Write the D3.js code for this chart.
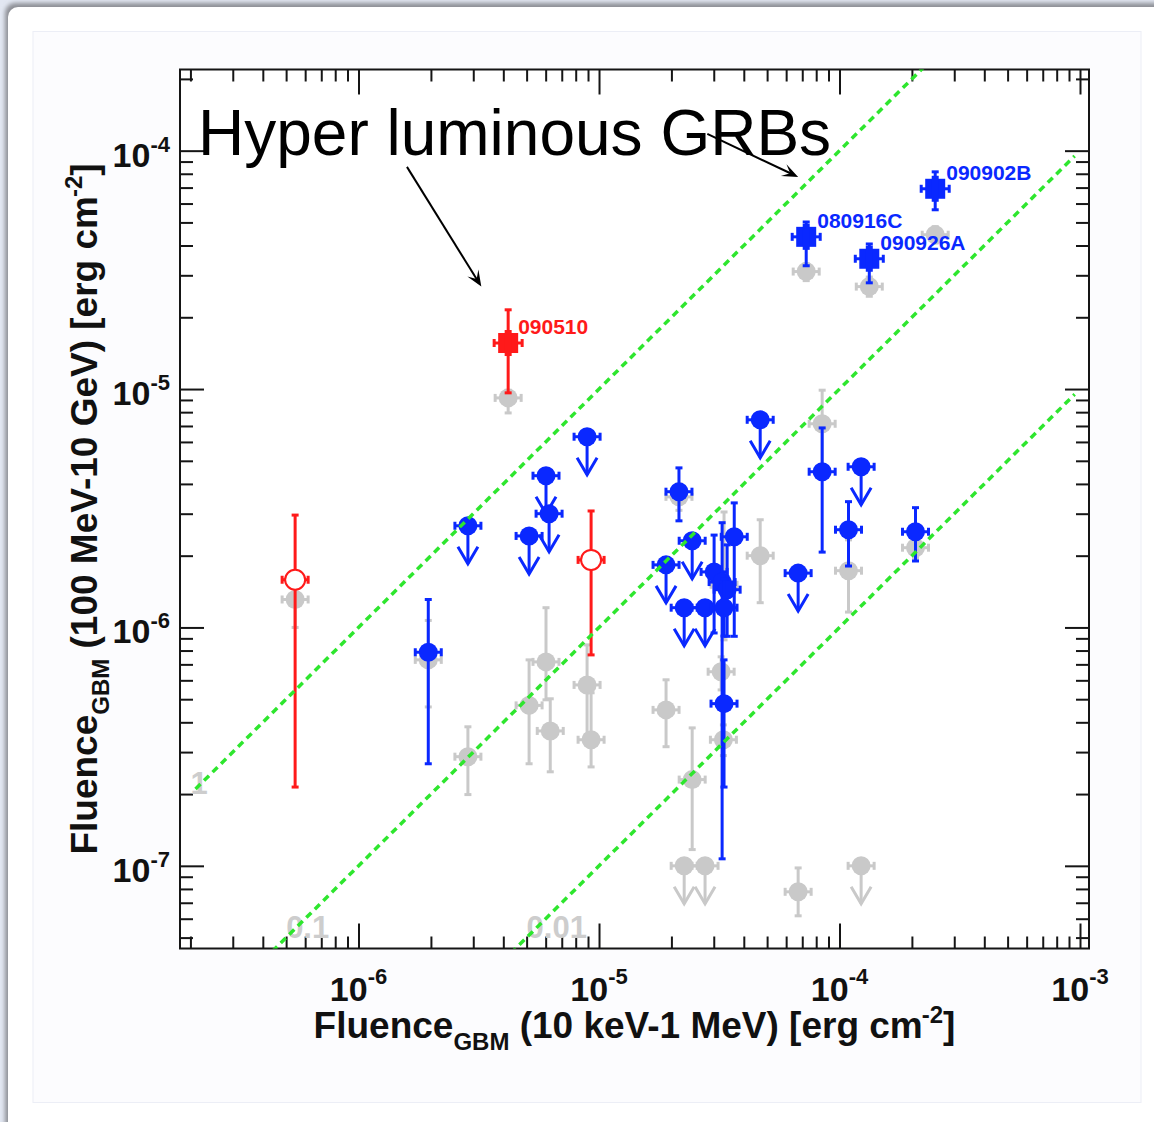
<!DOCTYPE html>
<html>
<head>
<meta charset="utf-8">
<script src="https://cdn.jsdelivr.net/npm/d3@7"></script>
<style>
  body { margin: 0; background: #fff; }
  svg { display: block; }
  text { font-family: "Liberation Sans", Arial, Helvetica, sans-serif; }
</style>
</head>
<body>
<svg id="chart" width="1154" height="1122"></svg>
<script>
// Fluences in erg cm^-2.
// Rows: [GBM fluence 10 keV-1 MeV, LAT fluence 100 MeV-10 GeV, lower, upper]

// Earlier LAT estimates (light gray)
const grayPoints = [
  [5.45e-7, 1.31e-6, 1.00e-6, 1.62e-6],
  [1.95e-6, 7.31e-7, 4.64e-7, 1.07e-6],
  [2.85e-6, 2.87e-7, 1.99e-7, 3.83e-7],
  [4.19e-6, 9.18e-6, 7.94e-6, 9.89e-6],
  [5.12e-6, 4.71e-7, 2.68e-7, 7.31e-7],
  [6.02e-6, 7.17e-7, 4.97e-7, 1.21e-6],
  [6.27e-6, 3.68e-7, 2.48e-7, 5.02e-7],
  [8.92e-6, 5.74e-7, 3.54e-7, 8.45e-7],
  [9.27e-6, 3.38e-7, 2.60e-7, 5.32e-7],
  [1.90e-5, 4.51e-7, 3.16e-7, 6.03e-7],
  [2.15e-5, 3.53e-6, 3.10e-6, 4.00e-6],
  [2.44e-5, 2.30e-7, 1.17e-7, 3.79e-7],
  [3.31e-5, 1.51e-6, 8.87e-7, 3.05e-6],
  [3.22e-5, 6.52e-7, 5.47e-7, 7.53e-7],
  [3.29e-5, 3.38e-7, 2.90e-7, 3.90e-7],
  [4.68e-5, 2.00e-6, 1.27e-6, 2.83e-6],
  [6.73e-5, 7.78e-8, 6.17e-8, 9.80e-8],
  [8.47e-5, 7.15e-6, 4.58e-6, 9.89e-6],
  [1.09e-4, 1.73e-6, 1.16e-6, 2.33e-6],
  [2.07e-4, 2.16e-6, 1.95e-6, 2.35e-6],
  [7.27e-5, 3.11e-5, 2.85e-5, 3.35e-5],
  [1.33e-4, 2.69e-5, 2.45e-5, 2.95e-5],
  [2.50e-4, 4.44e-5, 4.10e-5, 4.80e-5]
];
// Earlier LAT upper limits: [GBM fluence, LAT limit]
const grayLimits = [
  [2.26e-5, 1.0e-7],
  [2.76e-5, 1.0e-7],
  [1.23e-4, 1.0e-7]
];

// Long GRBs detected by the LAT (blue circles)
const bluePoints = [
  [1.95e-6, 7.87e-7, 2.68e-7, 1.31e-6],
  [2.15e-5, 3.71e-6, 2.80e-6, 4.67e-6],
  [8.47e-5, 4.50e-6, 2.07e-6, 6.87e-6],
  [1.09e-4, 2.57e-6, 1.81e-6, 3.37e-6],
  [2.07e-4, 2.52e-6, 1.90e-6, 3.18e-6],
  [3.01e-5, 1.71e-6, 9.48e-7, 2.44e-6],
  [3.25e-5, 1.55e-6, 1.07e-7, 2.75e-6],
  [3.41e-5, 1.44e-6, 9.18e-7, 2.22e-6],
  [3.65e-5, 2.40e-6, 9.18e-7, 3.33e-6],
  [3.31e-5, 1.21e-6, 9.20e-7, 1.60e-6],
  [3.31e-5, 4.79e-7, 2.14e-7, 7.31e-7]
];
// LAT upper limits: [GBM fluence, LAT limit]
const blueLimits = [
  [2.85e-6, 2.67e-6],
  [5.12e-6, 2.42e-6],
  [6.02e-6, 4.33e-6],
  [6.20e-6, 3.00e-6],
  [8.92e-6, 6.31e-6],
  [4.68e-5, 7.43e-6],
  [1.90e-5, 1.83e-6],
  [2.44e-5, 2.31e-6],
  [2.26e-5, 1.21e-6],
  [2.76e-5, 1.21e-6],
  [6.73e-5, 1.69e-6],
  [1.23e-4, 4.72e-6]
];

// Hyper-luminous long bursts (blue squares)
const brightNames = ["080916C", "090926A", "090902B"];
const brightPoints = [
  [7.27e-5, 4.35e-5, 3.29e-5, 5.02e-5],
  [1.33e-4, 3.52e-5, 2.79e-5, 4.06e-5],
  [2.50e-4, 6.92e-5, 5.65e-5, 8.15e-5]
];

// Short bursts (red): 090510 filled square, others open circles
const shortBrightName = "090510";
const shortBright = [4.19e-6, 1.56e-5, 9.64e-6, 2.15e-5];
const shortPoints = [
  [5.45e-7, 1.585e-6, 2.14e-7, 2.96e-6],
  [9.27e-6, 1.92e-6, 7.67e-7, 3.08e-6]
];

// Constant LAT/GBM fluence ratio lines and where their labels sit
const ratioValues = [1, 0.1, 0.01];
const ratioLabels = ["1", "0.1", "0.01"];
const ratioLabelX = [2.0e-7, 5.0e-7, 5.0e-6];
const ratioRange = [2.1e-7, 9.5e-4];

// Axes
const xDomain = [1.81e-7, 1.09e-3];
const yDomain = [4.5e-8, 2.19e-4];
const xMajorTicks = [1e-6, 1e-5, 1e-4, 1e-3];
const xTickExponents = ["-6", "-5", "-4", "-3"];
const yMajorTicks = [1e-7, 1e-6, 1e-5, 1e-4];
const yTickExponents = ["-7", "-6", "-5", "-4"];

// Headline annotation and its two pointers (in data coordinates)
const headline = "Hyper luminous GRBs";
const headlineAt = [2.15e-7, 9.6e-5];
const pointerArrows = [
  [[1.59e-6, 8.55e-5], [3.24e-6, 2.69e-5]],
  [[2.82e-5, 1.175e-4], [6.73e-5, 7.76e-5]]
];

// ---------------------------------------------------------------
const W = 1154, H = 1122;
const frame = { left: 180, right: 1089, top: 69.5, bottom: 948.5 };
const BLUE = "#0a28ff", RED = "#ff1a1a", GRAY = "#c9c9c9", GREEN = "#2ee62e";

const svg = d3.select("#chart");
const defs = svg.append("defs");
defs.append("filter").attr("id", "soft")
  .attr("x", "-5%").attr("y", "-5%").attr("width", "110%").attr("height", "110%")
  .append("feGaussianBlur").attr("stdDeviation", 2);
defs.append("clipPath").attr("id", "plotArea").append("rect")
  .attr("x", frame.left).attr("y", frame.top)
  .attr("width", frame.right - frame.left).attr("height", frame.bottom - frame.top);

// Page / slide backdrop
svg.append("rect").attr("width", W).attr("height", H).attr("fill", "#e2e7f2");
svg.append("rect").attr("x", 5).attr("y", 3).attr("width", W + 20).attr("height", H + 20)
  .attr("rx", 10).attr("fill", "#8e9096").attr("filter", "url(#soft)");
svg.append("rect").attr("x", 8).attr("y", 7).attr("width", W + 20).attr("height", H + 20)
  .attr("rx", 10).attr("fill", "#ffffff");
svg.append("rect").attr("x", 33).attr("y", 31.5).attr("width", 1108).attr("height", 1071)
  .attr("fill", "#fcfcfe").attr("stroke", "#eceef6");

const x = d3.scaleLog().domain(xDomain).range([frame.left, frame.right]);
const y = d3.scaleLog().domain(yDomain).range([frame.bottom, frame.top]);

// Plot frame
svg.append("rect")
  .attr("x", frame.left).attr("y", frame.top)
  .attr("width", frame.right - frame.left).attr("height", frame.bottom - frame.top)
  .attr("fill", "#ffffff");

// Ticks on all four sides, pointing inwards
const isDecade = v => Math.abs(Math.log10(v) - Math.round(Math.log10(v))) < 1e-9;
const xMinor = x.ticks().filter(v => !isDecade(v));
const yMinor = y.ticks().filter(v => !isDecade(v));

function tickAxis(axisFn, scale, values, size, transform) {
  const g = svg.append("g").attr("transform", transform)
    .call(axisFn(scale).tickValues(values).tickSize(-size).tickFormat(""));
  g.select(".domain").remove();
  g.selectAll(".tick line").attr("stroke", "#151515").attr("stroke-width", 2);
  return g;
}
tickAxis(d3.axisBottom, x, xMinor, 12, `translate(0,${frame.bottom})`);
tickAxis(d3.axisBottom, x, xMajorTicks, 25, `translate(0,${frame.bottom})`);
tickAxis(d3.axisTop, x, xMinor, 12, `translate(0,${frame.top})`);
tickAxis(d3.axisTop, x, xMajorTicks, 25, `translate(0,${frame.top})`);
tickAxis(d3.axisLeft, y, yMinor, 13, `translate(${frame.left},0)`);
tickAxis(d3.axisLeft, y, yMajorTicks, 24, `translate(${frame.left},0)`);
tickAxis(d3.axisRight, y, yMinor, 13, `translate(${frame.right},0)`);
tickAxis(d3.axisRight, y, yMajorTicks, 24, `translate(${frame.right},0)`);

svg.append("rect")
  .attr("x", frame.left).attr("y", frame.top)
  .attr("width", frame.right - frame.left).attr("height", frame.bottom - frame.top)
  .attr("fill", "none").attr("stroke", "#151515").attr("stroke-width", 2);

// Tick labels: 10 with superscript exponent
const xLab = svg.append("g");
xMajorTicks.forEach((v, i) => {
  const t = xLab.append("text").attr("x", x(v)).attr("y", 1001)
    .attr("text-anchor", "middle").attr("font-weight", "bold").attr("font-size", 34).attr("fill", "#111");
  t.append("tspan").text("10");
  t.append("tspan").attr("dy", -17).attr("font-size", 22).text(xTickExponents[i]);
});
const yLab = svg.append("g");
yMajorTicks.forEach((v, i) => {
  const t = yLab.append("text").attr("x", 170).attr("y", y(v) + 16)
    .attr("text-anchor", "end").attr("font-weight", "bold").attr("font-size", 34).attr("fill", "#111");
  t.append("tspan").text("10");
  t.append("tspan").attr("dy", -15).attr("font-size", 22).text(yTickExponents[i]);
});

// Axis titles
function axisTitle(t, band) {
  t.attr("font-weight", "bold").attr("font-size", 37).attr("fill", "#111").attr("text-anchor", "middle");
  t.append("tspan").text("Fluence");
  t.append("tspan").attr("dy", 12).attr("font-size", 24).text("GBM");
  t.append("tspan").attr("dy", -12).text(` (${band}) [erg cm`);
  t.append("tspan").attr("dy", -15).attr("dx", -1).attr("font-size", 24).text("-2");
  t.append("tspan").attr("dy", 15).text("]");
}
axisTitle(svg.append("text").attr("x", (frame.left + frame.right) / 2).attr("y", 1038), "10 keV-1 MeV");
axisTitle(svg.append("text")
  .attr("transform", `translate(97,${(frame.top + frame.bottom) / 2}) rotate(-90)`), "100 MeV-10 GeV");

// Data layer
const plot = svg.append("g");
const R = 9.5, EAR = 13, ARROW = 38;

function errorBar(g, cx, yLo, yHi, color) {
  g.append("line").attr("x1", cx).attr("x2", cx).attr("y1", yLo).attr("y2", yHi)
    .attr("stroke", color).attr("stroke-width", 3);
  [yLo, yHi].forEach(v => g.append("line")
    .attr("x1", cx - 3.5).attr("x2", cx + 3.5).attr("y1", v).attr("y2", v)
    .attr("stroke", color).attr("stroke-width", 3));
}
function ears(g, cx, cy, color, span) {
  g.append("line").attr("x1", cx - span).attr("x2", cx + span).attr("y1", cy).attr("y2", cy)
    .attr("stroke", color).attr("stroke-width", 3);
  [-span, span].forEach(d => g.append("line")
    .attr("x1", cx + d).attr("x2", cx + d).attr("y1", cy - 4).attr("y2", cy + 4)
    .attr("stroke", color).attr("stroke-width", 3));
}
function limitArrow(g, cx, cy, color) {
  g.append("line").attr("x1", cx).attr("x2", cx).attr("y1", cy).attr("y2", cy + ARROW)
    .attr("stroke", color).attr("stroke-width", 3);
  g.append("path")
    .attr("d", `M${cx - 10},${cy + ARROW - 17}L${cx},${cy + ARROW}L${cx + 10},${cy + ARROW - 17}`)
    .attr("fill", "none").attr("stroke", color).attr("stroke-width", 3);
}
function circlePoint(g, d, color, open) {
  const cx = x(d[0]), cy = y(d[1]);
  errorBar(g, cx, y(d[2]), y(d[3]), color);
  ears(g, cx, cy, color, EAR);
  g.append("circle").attr("cx", cx).attr("cy", cy).attr("r", open ? 10 : R)
    .attr("fill", open ? "#ffffff" : color)
    .attr("stroke", color).attr("stroke-width", open ? 2 : 0);
}
function limitPoint(g, d, color) {
  const cx = x(d[0]), cy = y(d[1]);
  limitArrow(g, cx, cy, color);
  ears(g, cx, cy, color, EAR);
  g.append("circle").attr("cx", cx).attr("cy", cy).attr("r", R).attr("fill", color);
}
function squarePoint(g, d, color) {
  const cx = x(d[0]), cy = y(d[1]);
  errorBar(g, cx, y(d[2]), y(d[3]), color);
  ears(g, cx, cy, color, 14);
  g.append("rect").attr("x", cx - 10).attr("y", cy - 10).attr("width", 20).attr("height", 20).attr("fill", color);
  g.append("rect").attr("x", cx - 3.5).attr("y", cy - 13).attr("width", 7).attr("height", 26).attr("fill", color);
}

// Gray layer underneath
plot.append("g").selectAll("g").data(grayPoints).join("g")
  .each(function (d) { circlePoint(d3.select(this), d, GRAY, false); });
plot.append("g").selectAll("g").data(grayLimits).join("g")
  .each(function (d) { limitPoint(d3.select(this), d, GRAY); });

// Blue and red bursts
plot.append("g").selectAll("g").data(blueLimits).join("g")
  .each(function (d) { limitPoint(d3.select(this), d, BLUE); });
plot.append("g").selectAll("g").data(bluePoints).join("g")
  .each(function (d) { circlePoint(d3.select(this), d, BLUE, false); });
plot.append("g").selectAll("g").data(shortPoints).join("g")
  .each(function (d) { circlePoint(d3.select(this), d, RED, true); });
squarePoint(plot.append("g"), shortBright, RED);
plot.append("g").selectAll("g").data(brightPoints).join("g")
  .each(function (d) { squarePoint(d3.select(this), d, BLUE); });

// Burst names
const names = svg.append("g").attr("font-weight", "bold").attr("font-size", 21);
names.append("text").attr("x", x(shortBright[0]) + 10).attr("y", y(shortBright[1]) - 9)
  .attr("fill", RED).text(shortBrightName);
names.selectAll("text.bright").data(brightPoints).join("text").attr("class", "bright")
  .attr("x", d => x(d[0]) + 11).attr("y", d => y(d[1]) - 9)
  .attr("fill", BLUE).text((d, i) => brightNames[i]);

// Ratio labels and constant-ratio lines
svg.append("g").selectAll("text").data(ratioValues).join("text")
  .attr("x", (r, i) => x(ratioLabelX[i])).attr("y", (r, i) => y(ratioLabelX[i] * r))
  .attr("font-weight", "bold").attr("font-size", 31).attr("fill", "#cdcdcd")
  .text((r, i) => ratioLabels[i]);

const ratioLine = d3.line().x(d => x(d[0])).y(d => y(d[1]));
svg.append("g").attr("clip-path", "url(#plotArea)")
  .selectAll("path").data(ratioValues).join("path")
  .attr("d", r => ratioLine(ratioRange.map(v => [v, v * r])))
  .attr("fill", "none").attr("stroke", GREEN).attr("stroke-width", 3.5)
  .attr("stroke-dasharray", "7 5");

// Headline annotation
svg.append("text").attr("x", x(headlineAt[0])).attr("y", y(headlineAt[1]))
  .attr("font-size", 64).attr("fill", "#000").text(headline);

const ann = svg.append("g");
pointerArrows.forEach(([from, to]) => {
  const x1 = x(from[0]), y1 = y(from[1]), x2 = x(to[0]), y2 = y(to[1]);
  const a = Math.atan2(y2 - y1, x2 - x1), L = 16, hw = 6.5;
  const p = (dd, s) => [x2 - Math.cos(a) * dd - Math.sin(a) * s, y2 - Math.sin(a) * dd + Math.cos(a) * s];
  ann.append("line").attr("x1", x1).attr("y1", y1)
    .attr("x2", x2 - Math.cos(a) * 8).attr("y2", y2 - Math.sin(a) * 8)
    .attr("stroke", "#000").attr("stroke-width", 2);
  ann.append("path").attr("d", d3.line()([[x2, y2], p(L, hw), p(L * 0.55, 0), p(L, -hw)]) + "Z")
    .attr("fill", "#000");
});
</script>
</body>
</html>
